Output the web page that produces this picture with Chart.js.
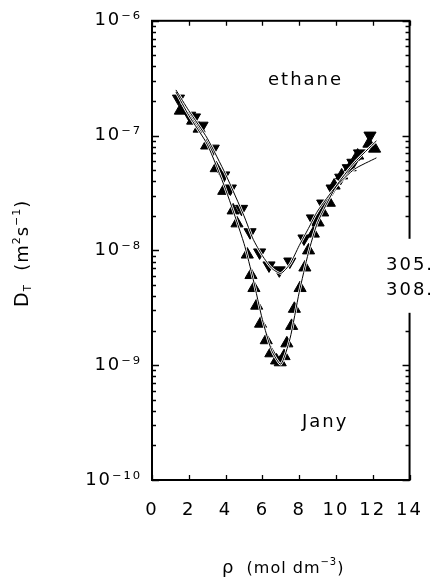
<!DOCTYPE html>
<html>
<head>
<meta charset="utf-8">
<script src="https://cdn.jsdelivr.net/npm/chart.js@4.4.0/dist/chart.umd.min.js"></script>
<style>
  html, body { margin: 0; padding: 0; background: #fff; }
  #wrap { width: 441px; height: 577px; }
</style>
</head>
<body>
<div id="wrap"><canvas id="dtChart"></canvas></div>
<script>
// density rho (mol dm^-3) and D_T (m^2 s^-1)
const rhoDown = [1.44, 2.05, 2.31, 2.72, 3.33, 3.90, 4.26, 4.87, 5.33, 5.85, 6.36, 6.92, 7.49, 8.26, 8.72, 9.28, 9.79, 10.26, 10.67, 10.92, 11.28, 11.85];
const dtDown = [2.1e-7, 1.49e-7, 1.44e-7, 1.22e-7, 7.7e-8, 4.5e-8, 3.46e-8, 2.3e-8, 1.44e-8, 9.6e-9, 7.4e-9, 6.7e-9, 8.0e-9, 1.27e-8, 1.9e-8, 2.56e-8, 3.46e-8, 4.3e-8, 5.2e-8, 5.8e-8, 7.0e-8, 1.0e-7];

const rhoUp = [1.54, 2.21, 2.56, 2.97, 3.49, 3.90, 4.41, 4.62, 5.18, 5.38, 5.54, 5.69, 5.90, 6.21, 6.46, 6.77, 6.97, 7.18, 7.33, 7.59, 7.74, 8.05, 8.31, 8.51, 8.77, 9.03, 9.28, 9.64, 9.90, 10.31, 10.77, 11.18, 11.79, 12.10];
const dtUp = [1.65e-7, 1.35e-7, 1.15e-7, 8.2e-8, 5.2e-8, 3.3e-8, 2.23e-8, 1.72e-8, 9.2e-9, 6.1e-9, 4.7e-9, 3.3e-9, 2.3e-9, 1.65e-9, 1.27e-9, 1.1e-9, 1.06e-9, 1.2e-9, 1.55e-9, 2.2e-9, 3.1e-9, 4.7e-9, 7.1e-9, 1.0e-8, 1.4e-8, 1.75e-8, 2.14e-8, 2.6e-8, 3.67e-8, 4.5e-8, 5.3e-8, 6.7e-8, 8.5e-8, 7.7e-8];

// the two fitted curves
const rhoFit = [1.3, 2, 3, 4, 5, 5.5, 6, 6.5, 7, 7.5, 8, 8.5, 9, 10, 11, 12.2];
const fitUpper = [2.5e-7, 1.65e-7, 9.5e-8, 4.6e-8, 2.0e-8, 1.25e-8, 9.0e-9, 7.0e-9, 6.3e-9, 7.6e-9, 1.1e-8, 1.55e-8, 2.2e-8, 3.6e-8, 5.1e-8, 6.4e-8];
const fitLower = [2.4e-7, 1.5e-7, 8.4e-8, 3.4e-8, 1.15e-8, 5.6e-9, 2.5e-9, 1.35e-9, 1.02e-9, 1.7e-9, 4.3e-9, 9.5e-9, 1.75e-8, 3.6e-8, 5.8e-8, 9.0e-8];

// axis ticks
const xTickStep = 2;
const yDecades = [-10, -9, -8, -7, -6];

const SUP = {'-': '\u207B', '0': '\u2070', '1': '\u00B9', '2': '\u00B2', '3': '\u00B3', '4': '\u2074', '5': '\u2075', '6': '\u2076', '7': '\u2077', '8': '\u2078', '9': '\u2079'};
const sup = s => String(s).split('').map(c => SUP[c]).join('');

function pts(xs, ys) {
    return xs.map((x, i) => ({ x: x, y: ys[i] }));
}

function isDecade(v) {
    const l = Math.log10(v);
    return Math.abs(l - Math.round(l)) < 1e-6;
}

// draws the text runs one after the other; each run: [text, size, shift]
function drawRuns(ctx, runs, x0, y0, family) {
    let x = x0;
    runs.forEach(([txt, size, dy]) => {
        ctx.font = size + 'px "' + family + '"';
        ctx.fillText(txt, x, y0 + dy);
        x += ctx.measureText(txt).width;
    });
}

const framePlugin = {
    id: 'frame',
    beforeDraw(chart) {
        chart.ctx.letterSpacing = '2px';
    },
    afterDraw(chart) {
        const { ctx, chartArea: a, scales: { x, y } } = chart;
        ctx.save();
        ctx.strokeStyle = '#000';
        ctx.lineWidth = 1.3;
        ctx.beginPath();
        y.ticks.forEach(t => {
            const py = Math.round(y.getPixelForValue(t.value)) + 0.5;
            const len = isDecade(t.value) ? 7 : 4;
            ctx.moveTo(a.left, py); ctx.lineTo(a.left + len, py);
            ctx.moveTo(a.right, py); ctx.lineTo(a.right - len, py);
        });
        x.ticks.forEach(t => {
            const px = Math.round(x.getPixelForValue(t.value)) + 0.5;
            ctx.moveTo(px, a.top); ctx.lineTo(px, a.top + 5);
            ctx.moveTo(px, a.bottom); ctx.lineTo(px, a.bottom - 5);
        });
        ctx.stroke();

        ctx.lineWidth = 2;
        ctx.strokeRect(a.left, a.top, a.right - a.left, a.bottom - a.top);

        // right spine is broken where the temperature labels sit
        ctx.fillStyle = '#fff';
        ctx.fillRect(a.right - 8, a.top + 218, 30, 74);

        ctx.fillStyle = '#000';
        ctx.letterSpacing = '2px';
        ctx.textAlign = 'left';
        ctx.textBaseline = 'alphabetic';
        ctx.font = '18px "DejaVu Sans"';
        ctx.fillText('ethane', 268, 85);
        ctx.fillText('Jany', 302, 427);
        ctx.fillText('305.', 386, 270);
        ctx.fillText('308.', 386, 295);

        // x title
        ctx.letterSpacing = '1px';
        drawRuns(ctx, [['\u03C1', 18, 0], ['  (mol dm', 16, 0], ['\u22123', 10, -8], [')', 16, 0]], 222, 573, 'DejaVu Sans');

        // y title, rotated
        ctx.translate(28, 307);
        ctx.rotate(-Math.PI / 2);
        ctx.letterSpacing = '1px';
        drawRuns(ctx, [['D', 19, 0], ['T', 10, 3], ['  (m', 18, 0], ['2', 11, -8], ['s', 18, 0], ['\u22121', 11, -8], [')', 18, 0]], 0, 0, 'DejaVu Sans');
        ctx.restore();
        ctx.letterSpacing = '0px';
    }
};

const ctx = document.getElementById('dtChart').getContext('2d');
const dtChart = new Chart(ctx, {
    type: 'scatter',
    data: {
        datasets: [
            { label: 'fit upper', data: pts(rhoFit, fitUpper), showLine: true, borderColor: '#000', borderWidth: 1, pointRadius: 0, tension: 0.2, order: 0 },
            { label: 'fit lower', data: pts(rhoFit, fitLower), showLine: true, borderColor: '#000', borderWidth: 1, pointRadius: 0, tension: 0.2, order: 0 },
            { label: 'halo upper', data: pts(rhoFit, fitUpper), showLine: true, borderColor: '#fff', borderWidth: 2.5, pointRadius: 0, tension: 0.2, order: 1 },
            { label: 'halo lower', data: pts(rhoFit, fitLower), showLine: true, borderColor: '#fff', borderWidth: 2.5, pointRadius: 0, tension: 0.2, order: 1 },
            { label: 'down', data: pts(rhoDown, dtDown), pointStyle: 'triangle', rotation: 180, pointRadius: 7, backgroundColor: '#000', borderColor: '#000', borderWidth: 1, order: 2 },
            { label: 'up', data: pts(rhoUp, dtUp), pointStyle: 'triangle', pointRadius: 7, backgroundColor: '#000', borderColor: '#000', borderWidth: 1, order: 2 }
        ]
    },
    options: {
        responsive: true,
        maintainAspectRatio: false,
        animation: false,
        layout: { padding: { top: 20, right: 16, left: 0, bottom: 0 } },
        plugins: { legend: { display: false }, tooltip: { enabled: false } },
        scales: {
            x: {
                type: 'linear',
                min: 0,
                max: 14,
                afterFit(s) { s.height = 97; },
                grid: { display: false, drawTicks: false },
                border: { display: false },
                ticks: { stepSize: xTickStep, padding: 20, color: '#000', font: { family: 'DejaVu Sans', size: 18 } }
            },
            y: {
                type: 'logarithmic',
                min: 1e-10,
                max: 1e-6,
                afterFit(s) { s.width = 152; },
                afterBuildTicks(s) {
                    const t = [];
                    yDecades.forEach((e, i) => {
                        const n = i < yDecades.length - 1 ? 9 : 1;
                        for (let m = 1; m <= n; m++) t.push({ value: m * Math.pow(10, e) });
                    });
                    s.ticks = t;
                },
                grid: { display: false, drawTicks: false },
                border: { display: false },
                ticks: {
                    autoSkip: false,
                    padding: 10,
                    color: '#000',
                    font: { family: 'DejaVu Sans', size: 18 },
                    callback: v => isDecade(v) ? '10' + sup(Math.round(Math.log10(v))) : ''
                }
            }
        }
    },
    plugins: [framePlugin]
});
</script>
</body>
</html>
